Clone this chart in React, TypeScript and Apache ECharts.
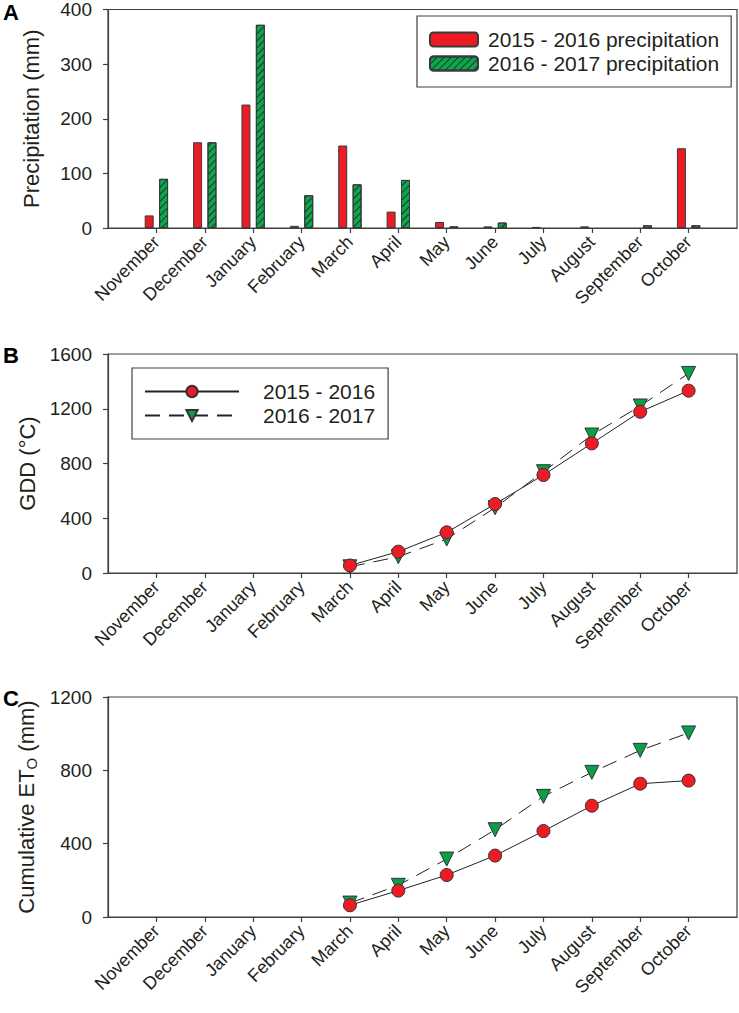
import React, { useEffect, useRef } from "react";
import * as echarts from "echarts";

const months = ["November", "December", "January", "February", "March", "April", "May", "June", "July", "August", "September", "October"];
const precip1516 = [23, 157, 226, 4, 151, 30, 11, 3, 2, 3, 0, 146];
const precip1617 = [90, 157, 372, 60, 80, 88, 3, 10, 0, 0, 5, 5];

const seasonMonths = ["March", "April", "May", "June", "July", "August", "September", "October"];
const gdd1516 = [55, 156, 297, 504, 716, 947, 1178, 1332];
const gdd1617 = [45, 119, 248, 477, 740, 1008, 1220, 1458];
const eto1516 = [64, 144, 229, 335, 469, 607, 727, 744];
const eto1617 = [76, 173, 316, 476, 658, 789, 909, 1004];

const precipTicks = { min: 0, max: 400, interval: 100 };
const gddTicks = { min: 0, max: 1600, interval: 400 };
const etoTicks = { min: 0, max: 1200, interval: 400 };

const FONT = "'Liberation Sans', Arial, sans-serif";
const TXT = "#231F20";
const AX = "#404040";
const RED = "#ED1C24";
const GREEN = "#0A9E4B";

export default function App() {
  const ref = useRef<HTMLDivElement>(null);
  useEffect(() => {
    document.body.style.margin = "0";
    const chart = echarts.init(ref.current!, null, { renderer: "svg" });

    const pos = (m: string) => months.indexOf(m) + 1;
    const barData = (arr: number[]) => arr.map((v, i) => [i + 1, v === 0 ? "-" : v]);
    const lineData = (arr: number[]) => arr.map((v, i) => [pos(seasonMonths[i]), v]);

    const grids = [
      { left: 108, right: 2, top: 9, height: 219 },
      { left: 108, right: 2, top: 354, height: 219 },
      { left: 108, right: 2, top: 697, height: 220 },
    ].map((g) => ({ ...g, show: true, borderColor: AX, borderWidth: 1.2, backgroundColor: "transparent" }));

    const xAxis = [0, 1, 2].map((i) => ({
      type: "value",
      gridIndex: i,
      min: 0,
      max: 13,
      interval: 1,
      splitLine: { show: false },
      axisLine: { show: true, lineStyle: { color: AX, width: 1.2 } },
      axisTick: { show: true, inside: false, length: 5, lineStyle: { color: AX, width: 1.2 } },
      axisLabel: {
        rotate: 45,
        fontFamily: FONT,
        fontSize: 18,
        color: TXT,
        margin: 11,
        showMinLabel: false,
        showMaxLabel: false,
        formatter: (v: number) => (Number.isInteger(v) && v >= 1 && v <= 12 ? months[v - 1] : ""),
      },
    }));

    const yBase = (i: number, t: any, name: string, gap: number, rich?: any) => ({
      type: "value",
      gridIndex: i,
      min: t.min,
      max: t.max,
      interval: t.interval,
      splitLine: { show: false },
      axisLine: { show: true, lineStyle: { color: AX, width: 1.2 } },
      axisTick: { show: true, inside: false, length: 5, lineStyle: { color: AX, width: 1.2 } },
      axisLabel: { fontFamily: FONT, fontSize: 19, color: TXT, margin: 16, formatter: (v: number) => String(v) },
      name,
      nameLocation: "middle",
      nameRotate: 90,
      nameGap: gap,
      nameTextStyle: { fontFamily: FONT, fontSize: 22, color: TXT, rich },
    });

    const yAxis = [
      yBase(0, precipTicks, "Precipitation (mm)", 66),
      yBase(1, gddTicks, "GDD (°C)", 66),
      yBase(2, etoTicks, "{a|Cumulative ET}{s|O}{a| (mm)}", 62, {
        a: { fontFamily: FONT, fontSize: 22, color: TXT },
        s: { fontFamily: FONT, fontSize: 15, color: TXT, verticalAlign: "bottom", padding: [10, 0, 0, 0] },
      }),
    ];

    const circleStyle = { color: RED, borderColor: "#333", borderWidth: 1 };
    const triStyle = { color: GREEN, borderColor: "#333", borderWidth: 1 };
    const solid = { color: "#222", width: 1 };
    const dashed = { color: "#222", width: 1, type: [15, 9] };

    const lineSeries = (name: string, xi: number, data: number[], tri: boolean) => ({
      name,
      type: "line",
      xAxisIndex: xi,
      yAxisIndex: xi,
      data: lineData(data),
      symbol: tri ? "triangle" : "circle",
      symbolRotate: tri ? 180 : 0,
      symbolSize: tri ? 14 : 13,
      itemStyle: tri ? triStyle : circleStyle,
      lineStyle: tri ? dashed : solid,
      z: tri ? 3 : 4,
    });

    const option: any = {
      animation: false,
      textStyle: { fontFamily: FONT },
      grid: grids,
      xAxis,
      yAxis,
      legend: [
        {
          data: ["2015 - 2016 precipitation", "2016 - 2017 precipitation"],
          left: 417,
          top: 16,
          orient: "vertical",
          itemWidth: 48,
          itemHeight: 14,
          itemGap: 3,
          padding: [13, 12, 13, 12],
          borderColor: AX,
          borderWidth: 1.2,
          textStyle: { fontFamily: FONT, fontSize: 21, color: TXT, padding: [0, 0, 0, 5] },
        },
        {
          data: ["2015 - 2016", "2016 - 2017"],
          left: 132,
          top: 368,
          orient: "vertical",
          itemWidth: 94,
          itemHeight: 14,
          itemGap: 3,
          padding: [13, 13, 13, 12],
          borderColor: AX,
          borderWidth: 1.2,
          textStyle: { fontFamily: FONT, fontSize: 21, color: TXT, padding: [0, 0, 0, 19] },
        },
      ],
      series: [
        {
          name: "2015 - 2016 precipitation",
          type: "bar",
          xAxisIndex: 0,
          yAxisIndex: 0,
          data: barData(precip1516),
          barWidth: 9,
          barGap: "60%",
          itemStyle: { color: RED, borderColor: "#3a3a3a", borderWidth: 1 },
        },
        {
          name: "2016 - 2017 precipitation",
          type: "bar",
          xAxisIndex: 0,
          yAxisIndex: 0,
          data: barData(precip1617),
          barWidth: 9,
          barGap: "60%",
          itemStyle: {
            color: "#0DA54E",
            borderColor: "#3a3a3a",
            borderWidth: 1,
            decal: {
              symbol: "rect",
              symbolSize: 1,
              rotation: -Math.PI / 4,
              dashArrayX: [1, 0],
              dashArrayY: [1, 3.5],
              color: "rgba(30,30,30,0.85)",
            },
          },
        },
        lineSeries("2015 - 2016", 1, gdd1516, false),
        lineSeries("2016 - 2017", 1, gdd1617, true),
        lineSeries("2015 - 2016", 2, eto1516, false),
        lineSeries("2016 - 2017", 2, eto1617, true),
      ],
      graphic: [
        { type: "text", left: 3, top: 1, style: { text: "A", font: `bold 22px ${FONT}`, fill: "#000" } },
        { type: "text", left: 3, top: 344, style: { text: "B", font: `bold 22px ${FONT}`, fill: "#000" } },
        { type: "text", left: 3, top: 687, style: { text: "C", font: `bold 22px ${FONT}`, fill: "#000" } },
      ],
    };
    chart.setOption(option);
    return () => chart.dispose();
  }, []);
  return <div ref={ref} style={{ width: 739, height: 1013 }} />;
}
